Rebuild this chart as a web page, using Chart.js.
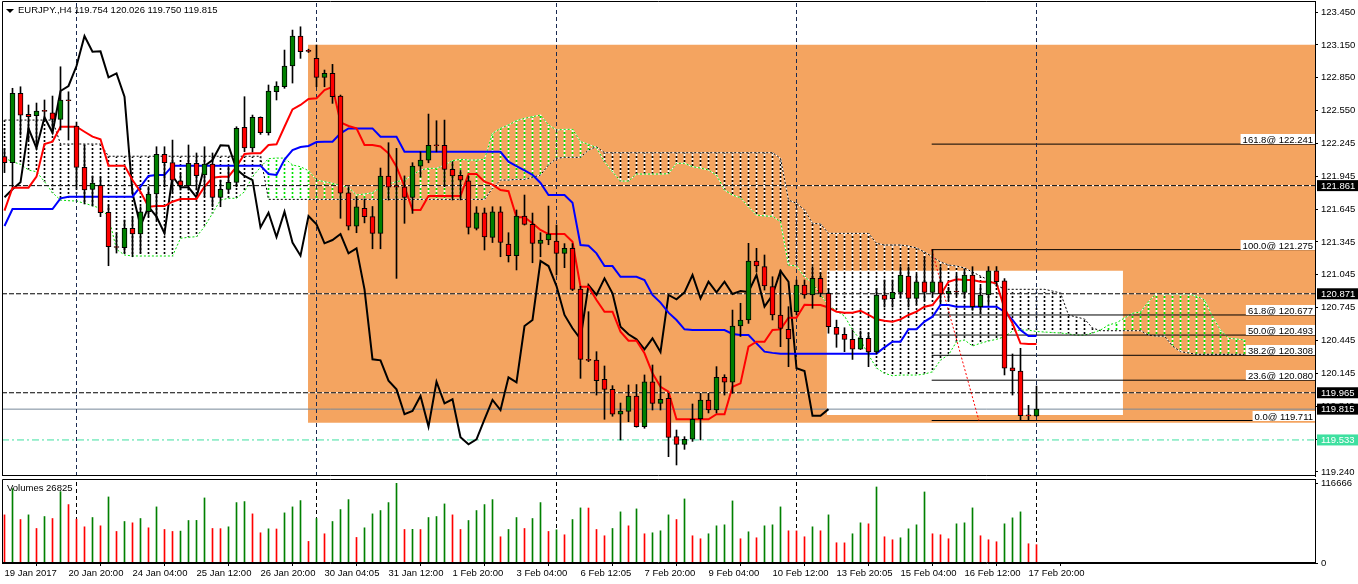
<!DOCTYPE html>
<html lang="de">
<head>
<meta charset="utf-8">
<title>EURJPY., H4</title>
<script src="https://cdn.jsdelivr.net/npm/chart.js@4.4.1/dist/chart.umd.min.js"></script>
<style>
  html, body { margin: 0; padding: 0; background: #fff; }
  #wrap { position: relative; width: 1358px; height: 584px; overflow: hidden; }
  #wrap canvas { position: absolute; left: 0; }
  #main { top: 0; }
  #vol { top: 477px; }
  .label { position: absolute; font-family: 'Liberation Sans', sans-serif; font-size: 9.5px; line-height: 12px; color: #000; white-space: nowrap; }
  #head { left: 18px; top: 4px; }
  #arrow { position: absolute; left: 6px; top: 9px; width: 0; height: 0; border-left: 4px solid transparent; border-right: 4px solid transparent; border-top: 4px solid #000; }
  #volname { left: 7px; top: 482px; }
</style>
</head>
<body>
<div id="wrap">
  <canvas id="main" width="1358" height="477"></canvas>
  <canvas id="vol" width="1358" height="107"></canvas>
  <div id="arrow"></div>
  <div id="head" class="label">EURJPY.,H4 119.754 120.026 119.750 119.815</div>
  <div id="volname" class="label">Volumes 26825</div>
</div>
<script>
// Kerzen (Index 0 = 19 Jan 2017 12:00, H4)
const opens = [
  122.126,122.071,122.706,122.514,122.501,122.544,122.528,122.468,122.642,122.407,
  122.028,121.827,121.864,121.617,121.302,121.293,121.470,121.418,121.622,121.784,
  122.148,122.071,121.906,121.860,122.065,121.958,122.059,121.754,121.827,121.891,
  122.395,122.205,122.486,122.345,122.721,122.766,122.956,123.230,123.097,123.026,
  122.852,122.889,122.681,121.796,121.491,121.653,121.577,121.424,121.949,121.851,
  121.851,121.754,122.040,122.095,122.230,122.230,122.010,121.955,121.906,121.470,
  121.613,121.388,121.622,121.327,121.220,121.583,121.507,121.333,121.363,121.354,
  121.241,121.287,120.915,120.265,120.265,120.088,119.996,119.768,119.795,119.935,
  119.655,120.066,119.868,119.914,119.563,119.493,119.539,119.728,119.899,119.807,
  120.106,120.061,120.576,120.631,121.171,121.119,120.936,120.677,120.546,120.707,
  120.951,120.860,121.012,120.875,120.565,120.500,120.454,120.363,120.463,120.338,
  120.860,120.826,120.884,121.034,120.829,120.981,120.884,120.981,120.869,120.890,
  120.884,121.043,120.753,120.860,121.080,120.990,120.194,120.164,119.760,119.754
];
const highs = [
  122.200,122.752,122.766,122.599,122.617,122.645,122.681,122.949,122.720,122.443,
  122.233,121.949,121.940,121.683,121.427,121.546,121.577,121.668,121.851,122.217,
  122.217,122.278,121.976,122.233,122.160,122.217,122.160,121.912,122.034,122.400,
  122.675,122.507,122.490,122.782,122.812,123.102,123.285,123.315,123.110,123.148,
  122.919,122.971,122.690,121.850,121.760,121.740,121.670,122.022,122.254,122.202,
  121.950,122.071,122.171,122.516,122.455,122.461,122.080,122.000,121.950,121.668,
  121.656,121.668,121.668,121.430,121.638,121.775,121.610,121.430,121.674,121.500,
  121.330,121.330,120.940,120.707,120.341,120.210,120.030,119.871,120.036,120.040,
  120.128,120.219,120.118,119.960,119.624,119.563,119.862,119.960,119.960,120.204,
  120.130,120.722,120.784,121.333,121.287,121.226,121.027,121.089,120.753,120.997,
  120.997,121.119,121.060,120.920,120.630,120.560,120.540,120.530,120.510,120.921,
  120.997,120.997,121.119,121.119,121.050,121.210,121.275,121.119,120.930,121.050,
  121.089,121.119,120.940,121.120,121.120,121.010,120.320,120.372,119.850,120.026
];
const lows = [
  121.980,121.850,122.324,122.278,122.217,122.461,122.370,122.370,122.278,121.839,
  121.693,121.674,121.577,121.128,121.244,121.244,121.210,121.244,121.580,121.546,
  121.851,121.791,121.821,121.820,121.821,121.760,121.668,121.668,121.790,121.851,
  122.171,122.170,122.330,122.324,122.645,122.752,122.800,123.026,123.080,122.766,
  122.766,122.614,121.562,121.455,121.430,121.520,121.283,121.283,121.729,121.012,
  121.516,121.607,121.940,122.070,122.170,121.851,121.729,121.730,121.418,121.455,
  121.272,121.340,121.210,121.162,121.089,121.500,121.155,121.210,121.320,121.043,
  121.110,120.900,120.097,120.250,119.944,119.722,119.750,119.533,119.700,119.650,
  119.640,119.807,119.807,119.380,119.304,119.447,119.520,119.533,119.780,119.780,
  119.944,119.960,120.480,120.600,121.070,120.905,120.631,120.387,120.204,120.677,
  120.830,120.738,120.845,120.510,120.381,120.341,120.270,120.360,120.204,120.320,
  120.750,120.750,120.830,120.750,120.770,120.810,120.850,120.780,120.810,120.850,
  120.830,120.720,120.690,120.780,120.940,120.128,119.944,119.711,119.715,119.750
];
const closes = [
  122.071,122.706,122.507,122.492,122.544,122.540,122.468,122.645,122.638,122.028,
  121.821,121.885,121.613,121.302,121.295,121.470,121.418,121.622,121.784,122.148,
  122.071,121.912,121.860,122.065,121.952,122.059,121.754,121.827,121.891,122.385,
  122.205,122.486,122.345,122.727,122.773,122.956,123.230,123.087,123.090,122.852,
  122.889,122.675,121.791,121.491,121.668,121.577,121.424,121.949,121.846,121.846,
  121.754,122.040,122.095,122.230,122.226,122.010,121.949,121.912,121.479,121.613,
  121.391,121.622,121.340,121.220,121.583,121.507,121.333,121.363,121.418,121.241,
  121.287,120.912,120.271,120.262,120.075,119.996,119.768,119.798,119.935,119.655,
  120.066,119.868,119.905,119.557,119.493,119.539,119.722,119.899,119.807,120.106,
  120.061,120.576,120.631,121.171,121.125,120.942,120.677,120.555,120.457,120.951,
  120.860,121.012,120.875,120.570,120.500,120.454,120.363,120.463,120.338,120.860,
  120.820,120.884,121.043,120.829,120.981,120.884,120.981,120.869,120.896,120.887,
  121.043,120.753,120.860,121.080,120.981,120.189,120.164,119.755,119.754,119.815
];

// Ichimoku: Tenkan (rot), Kijun (blau)
const tenkan = [
  121.632,121.842,121.842,121.842,121.943,122.242,122.263,122.400,122.400,122.400,
  122.354,122.309,122.285,122.044,122.044,122.044,121.912,121.805,121.668,121.674,
  121.674,121.714,121.739,121.739,121.739,121.851,121.933,121.943,121.943,122.034,
  122.150,122.157,122.157,122.233,122.239,122.400,122.559,122.599,122.654,122.660,
  122.736,122.766,122.440,122.407,122.385,122.233,122.233,122.220,122.157,122.034,
  121.851,121.638,121.638,121.766,121.766,121.766,121.766,121.766,121.967,121.967,
  121.897,121.870,121.821,121.810,121.571,121.571,121.516,121.455,121.418,121.418,
  121.418,121.348,120.936,120.936,120.814,120.707,120.707,120.524,120.441,120.441,
  120.326,120.143,120.020,119.975,119.722,119.722,119.722,119.722,119.722,119.768,
  119.768,120.020,120.051,120.387,120.432,120.432,120.539,120.545,120.652,120.652,
  120.770,120.768,120.768,120.745,120.707,120.698,120.698,120.716,120.677,120.637,
  120.625,120.616,120.637,120.677,120.707,120.753,120.768,120.860,120.981,121.003,
  120.997,120.997,120.981,120.981,120.967,120.738,120.600,120.417,120.411,120.411
];
const kijun = [
  121.491,121.647,121.647,121.647,121.647,121.647,121.647,121.745,121.760,121.760,
  121.760,121.760,121.760,121.760,121.760,121.760,121.760,121.851,121.949,121.958,
  121.958,122.044,122.044,122.044,122.044,122.044,122.044,122.044,122.044,122.044,
  122.044,122.044,122.044,121.967,121.958,122.100,122.187,122.215,122.224,122.260,
  122.263,122.263,122.339,122.385,122.385,122.385,122.385,122.309,122.309,122.309,
  122.171,122.171,122.171,122.171,122.171,122.171,122.171,122.171,122.171,122.171,
  122.171,122.171,122.171,122.080,122.040,122.000,121.960,121.885,121.775,121.775,
  121.775,121.705,121.317,121.311,121.241,121.125,121.125,121.027,121.027,121.027,
  120.997,120.860,120.790,120.698,120.631,120.546,120.539,120.539,120.539,120.539,
  120.539,120.503,120.493,120.493,120.417,120.341,120.330,120.323,120.323,120.323,
  120.323,120.323,120.323,120.323,120.323,120.323,120.323,120.323,120.323,120.323,
  120.381,120.432,120.432,120.546,120.546,120.616,120.661,120.768,120.768,120.753,
  120.753,120.753,120.753,120.753,120.753,120.707,120.631,120.539,120.484,120.484
];

// Wolke: Senkou Span A / B (26 Kerzen in die Zukunft verschoben)
const senkouA = [
  122.113,122.080,122.056,122.004,121.988,121.897,121.796,121.729,121.723,121.720,
  121.699,121.677,121.653,121.577,121.278,121.226,121.217,121.217,121.217,121.217,
  121.217,121.217,121.379,121.388,121.394,121.485,121.607,121.729,121.745,121.745,
  121.805,121.943,122.030,122.108,122.113,122.113,122.050,122.034,121.998,121.912,
  121.897,121.882,121.860,121.846,121.775,121.784,121.796,121.846,121.876,121.897,
  121.912,121.958,122.004,122.019,122.019,122.050,122.089,122.102,122.095,122.095,
  122.102,122.339,122.385,122.416,122.455,122.477,122.492,122.507,122.416,122.370,
  122.376,122.376,122.263,122.239,122.208,122.080,121.988,121.903,121.903,121.967,
  121.967,121.967,121.967,121.970,122.065,122.065,122.034,122.022,122.004,121.958,
  121.821,121.775,121.750,121.668,121.592,121.583,121.580,121.531,121.134,121.125,
  121.027,120.970,120.860,120.768,120.713,120.668,120.539,120.448,120.311,120.192,
  120.143,120.121,120.127,120.127,120.127,120.136,120.157,120.265,120.311,120.432,
  120.448,120.393,120.418,120.439,120.454,120.478,120.530,120.539,120.539,120.525,
  120.521,120.516,120.512,120.503,120.493,120.493,120.512,120.539,120.585,120.606,
  120.649,120.692,120.704,120.798,120.875,120.869,120.869,120.869,120.869,120.850,
  120.814,120.661,120.539,120.463,120.457,120.448
];
const senkouB = [
  122.461,122.461,122.461,122.461,122.461,122.461,122.461,122.242,122.242,122.242,
  122.242,122.242,122.242,122.130,122.130,122.130,122.130,122.130,122.130,122.130,
  122.130,122.130,122.130,122.130,122.130,122.130,122.130,122.130,122.130,122.130,
  122.130,122.130,122.130,121.735,121.735,121.735,121.735,121.735,121.735,121.735,
  121.735,121.735,121.735,121.735,121.735,121.735,121.735,121.735,121.735,121.735,
  121.735,121.735,121.735,121.735,121.735,121.735,121.735,121.735,121.735,121.735,
  121.735,121.836,121.912,121.912,121.918,121.918,121.937,121.958,122.050,122.111,
  122.120,122.120,122.120,122.187,122.217,122.162,122.162,122.162,122.162,122.162,
  122.162,122.162,122.162,122.162,122.162,122.162,122.162,122.162,122.162,122.162,
  122.162,122.162,122.162,122.162,122.162,122.162,122.162,122.111,121.729,121.699,
  121.638,121.516,121.510,121.424,121.424,121.424,121.424,121.424,121.424,121.333,
  121.317,121.317,121.317,121.308,121.290,121.253,121.208,121.162,121.134,121.125,
  121.107,121.070,121.034,120.997,120.951,120.912,120.912,120.912,120.912,120.912,
  120.912,120.896,120.878,120.677,120.658,120.640,120.558,120.533,120.533,120.533,
  120.533,120.533,120.533,120.493,120.484,120.484,120.393,120.341,120.329,120.317,
  120.317,120.317,120.317,120.317,120.317,120.317
];

// Volumen und Richtung (g = höher als davor, r = tiefer)
const volumes = [
  70480,108900,63680,70480,50550,68050,65140,104510,85550,64160,
  52980,66590,54440,96730,46180,60760,58820,65140,51530,82150,
  49100,46180,46700,62220,62400,95280,50550,50300,52980,88470,
  89930,71940,44230,50060,49800,73400,82150,91380,31600,65140,
  42780,60760,78260,92840,37430,51530,71940,76800,88470,116666,
  49100,49300,49000,66590,68050,86520,70480,49100,62220,76800,
  85550,92840,38400,49100,66590,50550,65140,88470,46180,48610,
  41320,63680,80690,80500,49100,39860,50550,74860,54440,79230,
  42780,44230,47150,70480,63680,93820,39860,35490,42780,54440,
  55900,90900,35490,45690,36940,54440,55900,82150,47150,47000,
  38400,52980,47150,70480,29650,29500,42780,58820,57360,111320,
  38400,34030,36940,50060,55900,104030,42780,41320,35490,57360,
  58820,80690,39860,34030,31110,57360,66110,74860,28190,26825
];
const volumeDir =
  'rgrgrgrgrr' + 'rgrgrgrgrg' + 'rrggggrrgg' + 'grrgrgggrg' + 'rgggrggggg' +
  'rgrgggrrgg' + 'ggrggrggrg' + 'rggrrrggrg' + 'rgggrgrrgg' + 'ggrgrgggrr' +
  'rgrgrrggrg' + 'rrggggrrrg' + 'ggrrrgggrr';

// Zeitachse und Preisachse
const timeLabels = ['19 Jan 2017', '20 Jan 20:00', '24 Jan 04:00', '25 Jan 12:00', '26 Jan 20:00',
  '30 Jan 04:05', '31 Jan 12:00', '1 Feb 20:00', '3 Feb 04:00', '6 Feb 12:05', '7 Feb 20:00',
  '9 Feb 04:00', '10 Feb 12:00', '13 Feb 20:05', '15 Feb 04:00', '16 Feb 12:00', '17 Feb 20:00'];
const timeLabelBars = [0, 8, 16, 24, 32, 40, 48, 56, 64, 72, 80, 88, 96, 104, 112, 120, 128];
const priceTicks = [123.450, 123.149, 122.849, 122.548, 122.247, 121.946, 121.646, 121.345,
  121.045, 120.744, 120.443, 120.143, 119.842, 119.541, 119.240];
const priceTickLabels = ['123.450', '123.150', '122.850', '122.550', '122.245', '121.945', '121.645',
  '121.345', '121.045', '120.745', '120.445', '120.145', '119.840', '119.540', '119.240'];
const volumeTicks = [116666, 0];
const weekStarts = [9, 39, 69, 99, 129];

// Objekte: Linien, Fibonacci, Rechtecke
const levelPrices = [121.861, 120.871, 119.965];
const bidPrice = 119.815;
const alertPrice = 119.533;
const fibRatios = ['161.8', '100.0', '61.8', '50.0', '38.2', '23.6', '0.0'];
const fibPrices = [122.241, 121.275, 120.677, 120.493, 120.308, 120.080, 119.711];
const fibFromBar = 115.9;
const fibToBar = 121.8;
const orangeZone = { from: 37.94, top: 123.150, bottom: 119.690 };
const whiteZone = { from: 102.77, to: 139.81, top: 121.082, bottom: 119.762 };
const tagPrices = [121.861, 120.871, 119.965, 119.815, 119.533];
const tagColors = ['#000000', '#000000', '#000000', '#000000', '#3ee0a0'];

const FONT = "'Liberation Sans', sans-serif";
const FS = 9.5;
Chart.defaults.font.family = FONT;
Chart.defaults.font.size = FS;
Chart.defaults.color = '#000';

const xMin = -0.3125, xMax = 163.8125;   // 8 px pro Kerze
const yMin = 119.203, yMax = 123.551;

const mainCtx = document.getElementById('main').getContext('2d');

// gestrichelte Schraffur der Wolke (2 px Farbe, 2 px weiss)
function hatch(color) {
  const c = document.createElement('canvas');
  c.width = 1; c.height = 4;
  const g = c.getContext('2d');
  g.fillStyle = '#ffffff'; g.fillRect(0, 0, 1, 4);
  g.fillStyle = color; g.fillRect(0, 0, 1, 2);
  return mainCtx.createPattern(c, 'repeat');
}

const series = arr => arr.map((v, i) => ({ x: i, y: v }));
const flat = (y, from, to) => [{ x: from, y: y }, { x: to, y: y }];

function line(data, color, width, dash, order) {
  return { type: 'line', data: data, borderColor: color, borderWidth: width, borderDash: dash || [],
    pointRadius: 0, fill: false, tension: 0, order: order };
}

// Achsen ohne Zusatzabstand für Randbeschriftungen
function noPad(s) {
  s.paddingTop = 0; s.paddingBottom = 0; s.paddingLeft = 0; s.paddingRight = 0;
}

const hatchUp = [], hatchDown = [];
senkouA.forEach((a, i) => {
  const b = senkouB[i];
  const bar = { x: i, y: [Math.min(a, b), Math.max(a, b)] };
  (a >= b ? hatchUp : hatchDown).push(bar);
});

const datasets = [];
// Rechtecke im Hintergrund
datasets.push({ type: 'line', data: flat(orangeZone.top, orangeZone.from, xMax + 5), fill: { value: orangeZone.bottom },
  backgroundColor: '#f4a460', borderWidth: 0, pointRadius: 0, order: 100 });
datasets.push({ type: 'line', data: flat(whiteZone.top, whiteZone.from, whiteZone.to), fill: { value: whiteZone.bottom },
  backgroundColor: '#ffffff', borderWidth: 0, pointRadius: 0, order: 99 });
// Wolke
datasets.push({ type: 'bar', data: hatchDown, backgroundColor: hatch('#000000'), barThickness: 1, grouped: false, order: 90 });
datasets.push({ type: 'bar', data: hatchUp, backgroundColor: hatch('#00e000'), barThickness: 1, grouped: false, order: 90 });
datasets.push(line(series(senkouA), '#ffffff', 1, [], 86));
datasets.push(line(series(senkouA), '#00e000', 1, [2, 2], 85));
datasets.push(line(series(senkouB), '#ffffff', 1, [], 86));
datasets.push(line(series(senkouB), '#000000', 1, [2, 2], 85));
// horizontale Linien
levelPrices.forEach(p => {
  datasets.push(line(flat(p, xMin, xMax), '#ffffff', 1, [], 80));
  datasets.push(line(flat(p, xMin, xMax), '#000000', 1, [5, 2], 79));
});
datasets.push(line(flat(bidPrice, xMin, xMax), '#778899', 1, [], 78));
datasets.push(line(flat(alertPrice, xMin, xMax), '#3ee0a0', 1, [7, 3, 2, 3], 78));
// Fibonacci
fibPrices.forEach(p => datasets.push(line(flat(p, fibFromBar, xMax), '#000000', 1, [], 77)));
datasets.push(line([{ x: fibFromBar, y: fibPrices[1] }, { x: fibToBar, y: fibPrices[6] }], '#ff0000', 1, [2, 2], 76));
// Wochentrenner
weekStarts.forEach(w => datasets.push(line([{ x: w, y: yMin }, { x: w, y: yMax }], '#1a2a50', 1, [4, 3], 75)));
// Indikatorlinien
datasets.push(line(series(closes.slice(26)), '#000000', 2, [], 40));
datasets.push(line(series(kijun), '#0000ff', 2, [], 39));
datasets.push(line(series(tenkan), '#ff0000', 2, [], 38));
// Kerzen
datasets.push({ type: 'bar', data: highs.map((h, i) => ({ x: i, y: [lows[i], h] })), backgroundColor: '#000000',
  barThickness: 1, grouped: false, order: 20 });
datasets.push({ type: 'bar', data: opens.map((o, i) => ({ x: i, y: [o, closes[i]] })),
  backgroundColor: closes.map((c, i) => c >= opens[i] ? '#008000' : '#ff0000'),
  borderColor: '#000000', borderWidth: 1, borderSkipped: false, minBarLength: 1,
  barThickness: 5, grouped: false, order: 10 });

// Rahmen um die Zeichenfläche
const framePlugin = {
  id: 'frame',
  afterDraw(chart) {
    const { ctx, chartArea: a } = chart;
    ctx.save();
    ctx.strokeStyle = '#000'; ctx.lineWidth = 1;
    ctx.beginPath();
    ctx.moveTo(a.left + 0.5, a.bottom); ctx.lineTo(a.left + 0.5, a.top + 0.5); ctx.lineTo(a.right, a.top + 0.5);
    ctx.moveTo(a.left, a.bottom - 0.5); ctx.lineTo(a.right, a.bottom - 0.5);
    ctx.stroke();
    ctx.restore();
  }
};

// Fibonacci-Beschriftung und Preismarken an der Achse
const tagPlugin = {
  id: 'tags',
  afterDraw(chart) {
    const { ctx, chartArea: a, scales: { y } } = chart;
    ctx.save();
    ctx.font = FS + 'px ' + FONT;
    ctx.textAlign = 'right';
    ctx.textBaseline = 'alphabetic';
    fibPrices.forEach((p, k) => {
      const text = fibRatios[k] + '@ ' + p.toFixed(3);
      const py = Math.round(y.getPixelForValue(p));
      const w = ctx.measureText(text).width;
      ctx.fillStyle = '#fff';
      ctx.fillRect(a.right - w - 4, py - 10, w + 4, 10);
      ctx.fillStyle = '#000';
      ctx.fillText(text, a.right - 2, py - 1.5);
    });
    ctx.textAlign = 'left';
    ctx.textBaseline = 'middle';
    tagPrices.forEach((p, k) => {
      const py = y.getPixelForValue(p);
      ctx.fillStyle = tagColors[k];
      ctx.fillRect(a.right + 2, py - 5.5, chart.width - a.right - 2, 11);
      ctx.fillStyle = '#fff';
      ctx.fillText(p.toFixed(3), a.right + 6, py + 0.5);
    });
    ctx.restore();
  }
};

new Chart(mainCtx, {
  type: 'bar',
  data: { datasets: datasets },
  options: {
    responsive: false, animation: false, devicePixelRatio: 1, events: [],
    layout: { padding: { left: 2, top: 1, right: 0, bottom: 1 } },
    plugins: { legend: { display: false }, tooltip: { enabled: false } },
    scales: {
      x: { type: 'linear', min: xMin, max: xMax, offset: false, display: false },
      y: {
        type: 'linear', position: 'right', min: yMin, max: yMax,
        afterBuildTicks: s => { s.ticks = priceTicks.map(v => ({ value: v })); },
        afterFit: s => { s.width = 43; noPad(s); },
        ticks: { autoSkip: false, padding: 3, callback: (v, i) => priceTickLabels[i] },
        grid: { drawOnChartArea: false, drawTicks: true, tickLength: 3, color: '#000' },
        border: { display: true, color: '#000' }
      }
    }
  },
  plugins: [framePlugin, tagPlugin]
});

// Volumen-Fenster
const volDatasets = [
  { type: 'bar', data: series(volumes), backgroundColor: volumes.map((v, i) => volumeDir[i] === 'g' ? '#008000' : '#ff0000'),
    barThickness: 1, grouped: false, order: 10 }
];
weekStarts.forEach(w => volDatasets.push(line([{ x: w, y: 0 }, { x: w, y: 123000 }], '#000000', 1, [4, 3], 20)));

new Chart(document.getElementById('vol'), {
  type: 'bar',
  data: { datasets: volDatasets },
  options: {
    responsive: false, animation: false, devicePixelRatio: 1, events: [],
    layout: { padding: { left: 2, top: 2, right: 0, bottom: 0 } },
    plugins: { legend: { display: false }, tooltip: { enabled: false } },
    scales: {
      x: {
        type: 'linear', min: xMin, max: xMax, offset: false,
        afterBuildTicks: s => { s.ticks = timeLabelBars.map(v => ({ value: v })); },
        afterFit: s => { s.height = 21; noPad(s); },
        ticks: { autoSkip: false, maxRotation: 0, minRotation: 0, align: 'start', padding: 2,
          callback: (v, i) => timeLabels[i] },
        grid: { drawOnChartArea: false, drawTicks: true, tickLength: 3, color: '#000' },
        border: { display: true, color: '#000' }
      },
      y: {
        type: 'linear', position: 'right', min: 0, max: 123000,
        afterBuildTicks: s => { s.ticks = volumeTicks.map(v => ({ value: v })); },
        afterFit: s => { s.width = 43; noPad(s); },
        ticks: { autoSkip: false, padding: 3, callback: v => String(v) },
        grid: { drawOnChartArea: false, drawTicks: true, tickLength: 3, color: '#000' },
        border: { display: true, color: '#000' }
      }
    }
  },
  plugins: [framePlugin]
});
</script>
</body>
</html>
